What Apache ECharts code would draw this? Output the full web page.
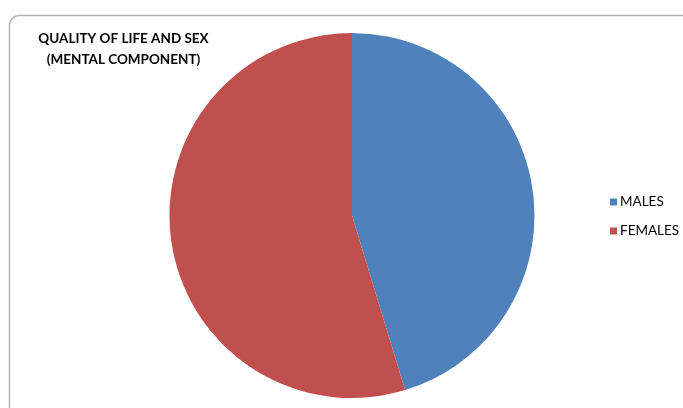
<!DOCTYPE html>
<html><head><meta charset="utf-8">
<script src="https://cdn.jsdelivr.net/npm/echarts@6/dist/echarts.min.js"></script>
<style>html,body{margin:0;padding:0;background:#fff}#c{width:683px;height:408px}</style>
</head><body><div id="c"></div>
<script>
const categories = ['MALES', 'FEMALES'];
const values = [45.3, 54.7];
const colors = ['#4F81BD', '#C0504D'];
const chart = echarts.init(document.getElementById('c'));
chart.setOption({
  animation: false,
  graphic: [{
    type: 'rect', shape: {x: 9.5, y: 15.5, width: 720, height: 430, r: 10},
    style: {fill: 'none', stroke: '#b4b4b4', lineWidth: 1.5}, z: -1
  }],
  title: {
    text: 'QUALITY OF LIFE AND SEX\n(MENTAL COMPONENT)',
    left: 118.5, top: 23, textAlign: 'center',
    textStyle: {fontFamily: 'Lato', fontWeight: 'bold', fontSize: 13.5, lineHeight: 21, color: '#000'}
  },
  legend: {
    orient: 'vertical', left: 605, top: 190, itemWidth: 7, itemHeight: 7, itemGap: 15,
    icon: 'rect',
    textStyle: {fontFamily: 'Lato', fontSize: 13.5, color: '#000', padding: [0,0,0,-2]},
    data: categories
  },
  series: [{
    type: 'pie', center: [352, 215.5], radius: 182.5, startAngle: 90, clockwise: true,
    label: {show: false}, labelLine: {show: false},
    itemStyle: {borderWidth: 0},
    emphasis: {disabled: true},
    data: categories.map((n, i) => ({name: n, value: values[i], itemStyle: {color: colors[i]}}))
  }]
});
</script></body></html>
